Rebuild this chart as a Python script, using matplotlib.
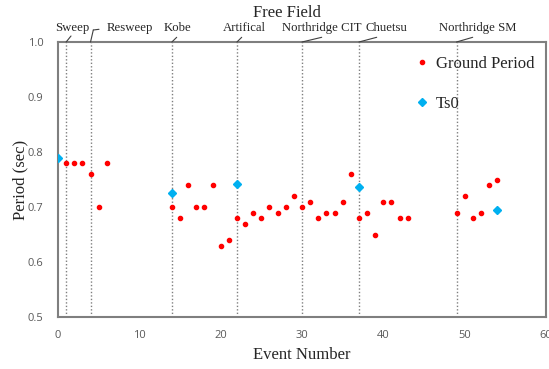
import matplotlib
matplotlib.use("Agg")
import matplotlib.pyplot as plt

# Data
ground_x = [1, 2, 3, 4, 5, 6, 14, 15, 16, 17, 18, 19, 20, 21, 22, 23, 24, 25, 26, 27, 28, 29,
            30, 31, 32, 33, 34, 35, 36, 37, 38, 39, 40, 41, 42, 43, 49, 50, 51, 52, 53, 54]
ground_y = [0.78, 0.78, 0.78, 0.76, 0.70, 0.78, 0.70, 0.68, 0.74, 0.70, 0.70, 0.74, 0.63, 0.64,
            0.68, 0.67, 0.69, 0.68, 0.70, 0.69, 0.70, 0.72, 0.70, 0.71, 0.68, 0.69, 0.69, 0.71,
            0.76, 0.68, 0.69, 0.65, 0.71, 0.71, 0.68, 0.68, 0.69, 0.72, 0.68, 0.69, 0.74, 0.75]
ts0_x = [0, 14, 22, 37, 54]
ts0_y = [0.79, 0.725, 0.741, 0.737, 0.695]

event_lines = [1, 4, 14, 22, 30, 37, 49]
event_labels = ["Sweep", "Resweep", "Kobe", "Artifical", "Northridge CIT", "Chuetsu", "Northridge SM"]

serif = "Liberation Serif"
sans = "Open Sans"

fig = plt.figure(figsize=(5.49, 3.69), dpi=100)
ax = fig.add_axes([58/549, 1-317/369, (546-58)/549, (317-42)/369])

for xv in event_lines:
    ax.axvline(xv, color="#7f7f7f", linestyle=(0, (1, 1.5)), linewidth=1.0, zorder=1)

ax.plot(ground_x, ground_y, linestyle="none", marker="o", color="#ff0000",
        markersize=3.0, label="Ground Period", zorder=3)
ax.plot(ts0_x, ts0_y, linestyle="none", marker="D", color="#00b0f0",
        markersize=3.8, label="Ts0", zorder=4)

ax.set_xlim(0, 60)
ax.set_ylim(0.5, 1.0)
ax.set_xticks([0, 10, 20, 30, 40, 50, 60])
ax.set_yticks([0.5, 0.6, 0.7, 0.8, 0.9, 1.0])
ax.set_yticklabels(["0.5", "0.6", "0.7", "0.8", "0.9", "1.0"])
ax.tick_params(axis="both", length=0, labelsize=8, labelcolor="#595959")
ax.tick_params(axis="x", pad=9.5)
ax.tick_params(axis="y", pad=10.5)
for lab in ax.get_xticklabels() + ax.get_yticklabels():
    lab.set_family(sans)
for sp in ax.spines.values():
    sp.set_color("#7f7f7f")
    sp.set_linewidth(1.5)

ax.set_xlabel("Event Number", fontfamily=serif, fontsize=12, color="#262626", labelpad=4)
ax.set_ylabel("Period (sec)", fontfamily=serif, fontsize=12, color="#262626", va="center")
ax.yaxis.set_label_coords(20/549, 1-180/369, transform=fig.transFigure)
fig.text(287/549, 1-13/369, "Free Field", ha="center", va="center",
         fontfamily=serif, fontsize=12, color="#262626")

# event labels with leader lines (text positions in pixels, converted to figure fraction)
label_px = [(72, 28), (130, 28), (178, 28), (244.5, 28), (321.7, 28), (386, 28), (478, 28)]
leader_start = [(71, 36), (93.3, 30), (176.7, 37.3), (241.7, 37.3), (321.7, 37.3), (376.7, 37.3), (472.7, 37.3)]
for xv, lab, (tx, ty), (lx, ly) in zip(event_lines, event_labels, label_px, leader_start):
    ax.annotate(lab, xy=(xv, 1.0), xycoords="data",
                xytext=(tx/549, 1-ty/369), textcoords="figure fraction",
                ha="center", va="center", fontfamily=serif, fontsize=9.2, color="#262626",
                annotation_clip=False)
    ax.annotate("", xy=(xv, 1.0), xycoords="data",
                xytext=(lx/549, 1-ly/369), textcoords="figure fraction",
                arrowprops=dict(arrowstyle="-", color="#404040", lw=0.8, shrinkA=0, shrinkB=0),
                annotation_clip=False)
# small hook for Resweep
ax.annotate("", xy=(93.3/549, 1-30/369), xycoords="figure fraction",
            xytext=(99/549, 1-29.3/369), textcoords="figure fraction",
            arrowprops=dict(arrowstyle="-", color="#404040", lw=0.8, shrinkA=0, shrinkB=0))

leg = ax.legend(loc="upper left", bbox_to_anchor=(415/549, 1-56/369),
                bbox_transform=fig.transFigure, frameon=False,
                prop={"family": serif, "size": 12}, labelspacing=1.45,
                handlelength=0.8, handletextpad=0.45, borderpad=0, borderaxespad=0)
for t in leg.get_texts():
    t.set_color("#262626")

fig.savefig("out.png", dpi=100)
